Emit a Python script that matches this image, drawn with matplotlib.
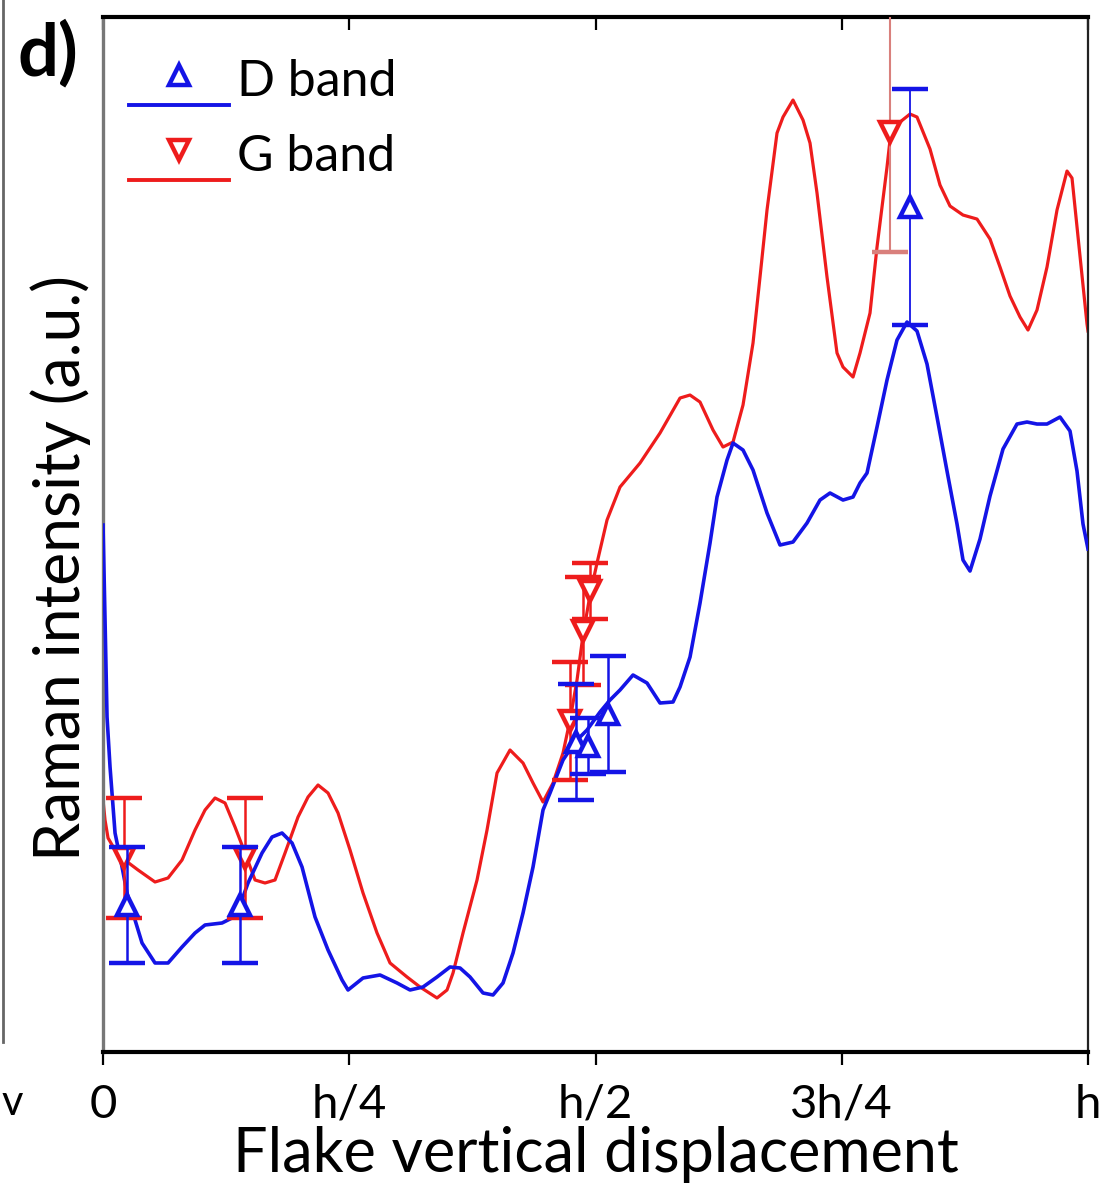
import matplotlib
matplotlib.use("Agg")
import matplotlib.pyplot as plt
import numpy as np
from matplotlib.legend_handler import HandlerLine2D
from matplotlib.lines import Line2D

# Displacement along the flake (nm), flake height h = 985 nm
H = 985.0

# Continuous Raman line scans: (displacement, intensity a.u.)
d_scan = [
    (0, 527), (2, 432), (4, 335), (7, 285), (12, 219), (19, 185), (24, 159),
    (32, 132), (39, 109), (52, 89), (65, 89), (79, 105), (92, 119), (102, 127),
    (119, 129), (129, 134), (137, 147), (145, 169), (159, 199), (169, 215),
    (179, 219), (189, 209), (199, 185), (212, 135), (225, 102), (239, 72),
    (245, 62), (260, 74), (277, 77), (294, 69), (307, 62), (320, 65),
    (334, 75), (347, 85), (357, 84), (367, 75), (380, 59), (390, 57),
    (400, 69), (410, 99), (420, 139), (430, 185), (440, 242), (447, 259),
    (460, 292), (472, 310), (484, 322), (497, 340), (507, 352), (517, 362),
    (530, 377), (544, 369), (557, 349), (570, 350), (577, 365), (587, 395),
    (597, 449), (607, 509), (614, 555), (624, 592), (630, 609), (640, 602),
    (650, 582), (664, 539), (677, 507), (690, 510), (704, 529), (717, 552),
    (727, 559), (740, 552), (750, 555), (757, 569), (764, 579), (774, 625),
    (784, 672), (794, 712), (804, 730), (814, 721), (824, 688), (834, 635),
    (844, 581), (854, 528), (860, 492), (867, 481), (877, 513), (887, 556),
    (900, 603), (914, 628), (924, 630), (934, 628), (944, 628), (957, 635),
    (967, 621), (974, 581), (980, 528), (985, 503),
]
g_scan = [
    (0, 252), (2, 232), (5, 214), (12, 202), (19, 194), (35, 182), (52, 170),
    (65, 174), (79, 192), (92, 222), (102, 242), (112, 254), (122, 249),
    (132, 225), (142, 199), (152, 172), (162, 169), (172, 172), (182, 199),
    (195, 235), (205, 255), (215, 267), (225, 259), (235, 239), (247, 202),
    (260, 159), (274, 119), (287, 89), (304, 75), (317, 65), (334, 54),
    (344, 62), (350, 79), (360, 119), (374, 172), (384, 222), (394, 279),
    (407, 302), (420, 289), (430, 269), (440, 250), (450, 269), (460, 299),
    (467, 332), (474, 372), (480, 417), (487, 457), (494, 489), (504, 532),
    (517, 565), (537, 589), (557, 619), (577, 654), (587, 657), (597, 650),
    (610, 622), (620, 605), (630, 610), (640, 647), (650, 709), (657, 775),
    (664, 842), (674, 919), (680, 935), (690, 952), (700, 932), (707, 909),
    (714, 859), (724, 775), (734, 699), (740, 685), (750, 675), (757, 699),
    (767, 739), (774, 805), (784, 885), (787, 912), (797, 930), (807, 938),
    (814, 935), (827, 903), (837, 867), (847, 846), (860, 837), (874, 833),
    (887, 813), (897, 785), (907, 756), (917, 735), (925, 722), (934, 742),
    (944, 785), (954, 842), (964, 881), (969, 874), (977, 796), (984, 728),
    (985, 721),
]

# Spot measurements with error bars (a.u.)
d_pts_x = [24, 137, 473, 485, 505, 807]
d_pts_y = [147, 147, 310, 306, 338, 845]
d_pts_err = [58, 58, 58, 28, 58, 118]

g_pts_x = [21, 142, 467, 480, 487, 787]
g_pts_y = [194, 194, 331, 421, 461, 920]
g_pts_err = [60, 60, 59, 54, 28, 120]

tick_pos = [0, H / 4, H / 2, 3 * H / 4, H]
tick_labels = ["0", "h/4", "h/2", "3h/4", "h"]

BLUE = "#1414e6"
RED = "#ee1c1c"
FONT = ["Lato", "DejaVu Sans"]

plt.rcParams["font.family"] = FONT

d_x, d_y = zip(*d_scan)
g_x, g_y = zip(*g_scan)

fig = plt.figure(figsize=(11.02, 11.84), dpi=100)
ax = fig.add_axes([0.0935, 0.1115, 0.8938, 0.8741])

ax.plot(d_x, d_y, color=BLUE, lw=2.6, zorder=3, solid_joinstyle="round")
ax.plot(g_x, g_y, color=RED, lw=2.3, zorder=2, solid_joinstyle="round")

marker_kw = dict(ms=15, mfc="white", mew=3.2, capsize=13, capthick=2.0)

# Spots along the lower part of the flake
ax.errorbar(d_pts_x[:-1], d_pts_y[:-1], yerr=d_pts_err[:-1], fmt="^",
            color=BLUE, mec=BLUE, elinewidth=1.8, zorder=5, **marker_kw)
ax.errorbar(g_pts_x[:-1], g_pts_y[:-1], yerr=g_pts_err[:-1], fmt="v",
            color=RED, mec=RED, elinewidth=1.8, zorder=4, **marker_kw)
# Spot near the top of the flake (thinner, lighter error bars)
ax.errorbar(d_pts_x[-1:], d_pts_y[-1:], yerr=d_pts_err[-1:], fmt="^",
            color=BLUE, mec=BLUE, elinewidth=1.3, zorder=5, **marker_kw)
ax.errorbar(g_pts_x[-1:], g_pts_y[-1:], yerr=g_pts_err[-1:], fmt="v",
            color=RED, mec=RED, ecolor="#d9807c", elinewidth=1.5, zorder=4,
            **marker_kw)

ax.set_xlim(0, H)
ax.set_ylim(0, 1035)
ax.set_xticks(tick_pos)
ax.set_xticklabels(tick_labels, fontsize=34)
ax.set_yticks([])
ax.tick_params(axis="x", direction="out", length=9, width=1.6, pad=14,
               top=False)
top = ax.secondary_xaxis("top")
top.set_xticks(tick_pos)
top.tick_params(direction="in", length=9, width=1.6, labeltop=False)
top.spines["top"].set_visible(False)

for side, lw, col in [("top", 3.0, "black"), ("bottom", 3.0, "black"),
                      ("left", 2.4, "#777777"), ("right", 1.6, "#222222")]:
    ax.spines[side].set_linewidth(lw)
    ax.spines[side].set_color(col)

ax.set_xlabel("Flake vertical displacement", fontsize=44, labelpad=0)
ax.set_ylabel("Raman intensity (a.u.)", fontsize=45)
ax.yaxis.set_label_coords(-0.012, 0.468)


class MarkerAboveLine(HandlerLine2D):
    """Legend entry with the line drawn low and the marker sitting above it."""

    def create_artists(self, legend, orig_handle, xdescent, ydescent, width,
                       height, fontsize, trans):
        xdata = np.array([-xdescent, -xdescent + width])
        y_line = -ydescent - 0.25 * height
        y_mark = -ydescent + 0.6 * height
        line = Line2D(xdata, [y_line, y_line])
        self.update_prop(line, orig_handle, legend)
        line.set_marker("")
        line.set_transform(trans)
        mark = Line2D([xdata.mean()], [y_mark])
        self.update_prop(mark, orig_handle, legend)
        mark.set_linestyle("")
        mark.set_transform(trans)
        return [line, mark]


h_d = Line2D([], [], color=BLUE, lw=2.8, marker="^", ms=15, mfc="white",
             mec=BLUE, mew=3.2)
h_g = Line2D([], [], color=RED, lw=2.8, marker="v", ms=15, mfc="white",
             mec=RED, mew=3.2)
ax.legend([h_d, h_g], ["D band", "G band"], loc="upper left",
          bbox_to_anchor=(-0.019, 1.003), frameon=False, fontsize=36,
          handlelength=2.0, handletextpad=0.15, labelspacing=0.58,
          handler_map={Line2D: MarkerAboveLine()})

fig.text(0.016, 0.983, "d)", fontsize=52, fontweight="bold", ha="left",
         va="top")

# Edge of the neighbouring panel
fig.add_artist(Line2D([0.003, 0.003], [0.12, 1.0], transform=fig.transFigure,
                      color="#666666", lw=2.0))
fig.text(0.001, 0.068, "v", fontsize=30, ha="left", va="center")

fig.savefig("out.png", dpi=100, facecolor="white")
